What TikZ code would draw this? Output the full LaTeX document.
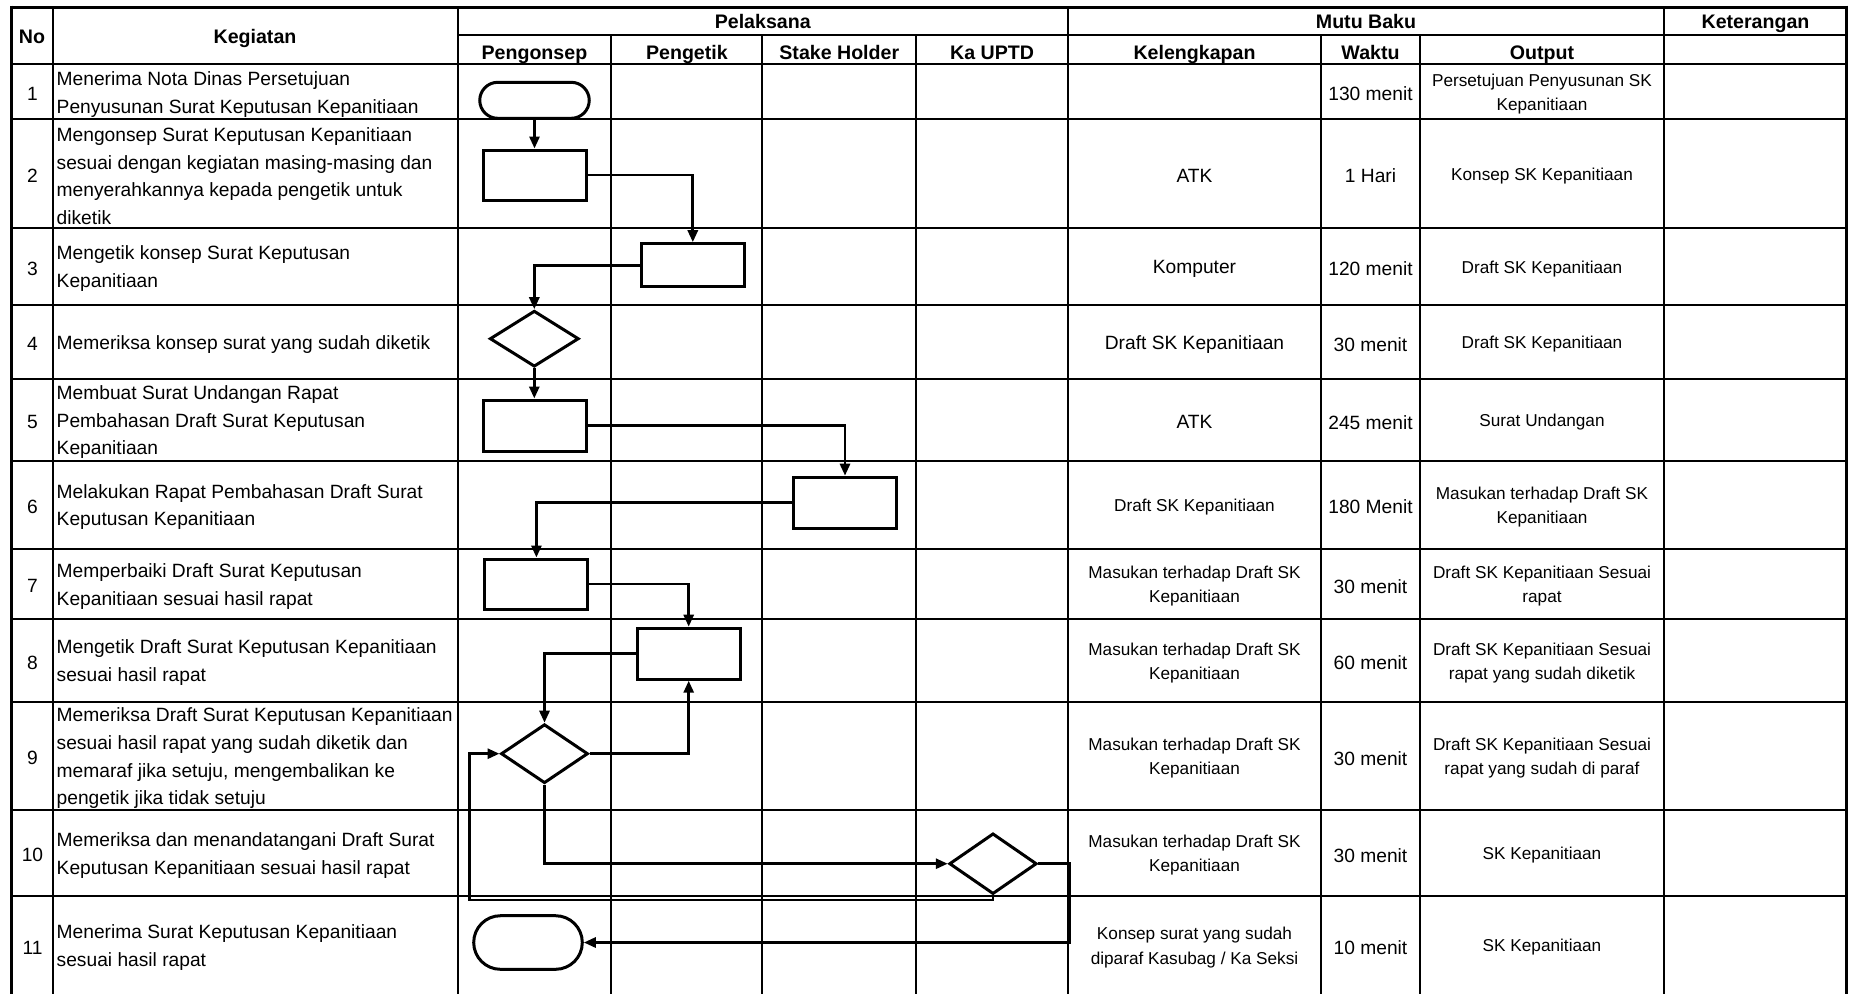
\documentclass[tikz,border=0pt]{standalone}
\usepackage{fontspec}
\setmainfont{Liberation Sans}
\usetikzlibrary{arrows.meta,shapes.geometric,shapes.misc}
\newcommand{\FBig}{\fontsize{19.2}{27.7}\selectfont}
\newcommand{\FSmall}{\fontsize{17.2}{24.2}\selectfont}
\newcommand{\FHead}{\fontsize{19.6}{24}\selectfont\bfseries}
\tikzset{
  gridline/.style={line width=2pt},
  frameline/.style={line width=3pt},
  kg/.style={anchor=west, align=left, font=\FBig, inner sep=0pt},
  num/.style={font=\FBig, inner sep=0pt},
  big/.style={align=center, font=\FBig, inner sep=0pt},
  sml/.style={align=center, font=\FSmall, inner sep=0pt},
  hd/.style={anchor=base, font=\FHead, inner sep=0pt},
  proc/.style={draw, fill=white, line width=3pt, minimum width=103pt, minimum height=50pt, inner sep=0pt},
  term/.style={draw, fill=white, rounded rectangle, line width=3pt, inner sep=0pt},
  dec/.style={draw, fill=white, diamond, line width=3pt, inner sep=0pt},
  arr/.style={line width=2.8pt, -{Triangle[length=12pt,width=10pt]}},
}
\begin{document}
\begin{tikzpicture}[x=1pt,y=-1pt]
\useasboundingbox (0,0) rectangle (1849,994);
% ---------- table grid ----------
\draw[frameline] (11,7) -- (1846,7);
\draw[gridline] (457.5,35) -- (1846,35);
\draw[line width=2.8pt] (11,64) -- (1846,64);
\foreach \yy in {119,228,304.5,379,460.5,548.5,619,701.7,809.7,896}
  \draw[gridline] (11,\yy) -- (1846,\yy);
\foreach \xx in {52.6,457.5,1068,1664}
  \draw[gridline] (\xx,7) -- (\xx,994);
\foreach \xx in {611.3,762.4,916.2,1321,1420}
  \draw[gridline] (\xx,35) -- (\xx,994);
\draw[frameline] (11,5.5) -- (11,994);
\draw[frameline] (1846,5.5) -- (1846,994);
% ---------- headers ----------
\node[hd] (hno) at (32,43.3) {No};
\node[hd] (hkeg) at (255,43.3) {Kegiatan};
\node[hd] (hpel) at (762.75,28.6) {Pelaksana};
\node[hd] (hmutu) at (1366,28.6) {Mutu Baku};
\node[hd] (hket) at (1755.5,28.6) {Keterangan};
\node[hd] (hp1) at (534.4,59) {Pengonsep};
\node[hd] (hp2) at (686.9,59) {Pengetik};
\node[hd] (hp3) at (839.3,59) {Stake Holder};
\node[hd] (hp4) at (992.1,59) {Ka UPTD};
\node[hd] (hm1) at (1194.5,59) {Kelengkapan};
\node[hd] (hm2) at (1370.5,59) {Waktu};
\node[hd] (hm3) at (1542,59) {Output};
% ---------- numbers and time ----------
\foreach \i/\yy/\w in {1/94/130 menit, 2/176/1 Hari, 3/268.75/120 menit, 4/344.25/30 menit,
  5/422.25/245 menit, 6/507/180 Menit, 7/586.25/30 menit, 8/662.85/60 menit,
  9/758.2/30 menit, 10/855.35/30 menit, 11/947.5/10 menit}{
  \node[num] (n\i) at (32.5,\yy) {\i};
  \node[big] (w\i) at (1370.5,\yy) {\w};
}
% ---------- kegiatan ----------
\node[kg] (k1) at (56.5,94.5) {Menerima Nota Dinas Persetujuan\\Penyusunan Surat Keputusan Kepanitiaan};
\node[kg] (k2) at (56.5,176) {Mengonsep Surat Keputusan Kepanitiaan\\sesuai dengan kegiatan masing-masing dan\\menyerahkannya kepada pengetik untuk\\diketik};
\node[kg] (k3) at (56.5,268.75) {Mengetik konsep Surat Keputusan\\Kepanitiaan};
\node[kg] (k4) at (56.5,344.25) {Memeriksa konsep surat yang sudah diketik};
\node[kg] (k5) at (56.5,422.25) {Membuat Surat Undangan Rapat\\Pembahasan Draft Surat Keputusan\\Kepanitiaan};
\node[kg] (k6) at (56.5,507) {Melakukan Rapat Pembahasan Draft Surat\\Keputusan Kepanitiaan};
\node[kg] (k7) at (56.5,586.25) {Memperbaiki Draft Surat Keputusan\\Kepanitiaan sesuai hasil rapat};
\node[kg] (k8) at (56.5,662.85) {Mengetik Draft Surat Keputusan Kepanitiaan\\sesuai hasil rapat};
\node[kg] (k9) at (56.5,758.2) {Memeriksa Draft Surat Keputusan Kepanitiaan\\sesuai hasil rapat yang sudah diketik dan\\memaraf jika setuju, mengembalikan ke\\pengetik jika tidak setuju};
\node[kg] (k10) at (56.5,855.35) {Memeriksa dan menandatangani Draft Surat\\Keputusan Kepanitiaan sesuai hasil rapat};
\node[kg] (k11) at (56.5,947.5) {Menerima Surat Keputusan Kepanitiaan\\sesuai hasil rapat};
% ---------- kelengkapan ----------
\node[big] (l2) at (1194.5,176) {ATK};
\node[big] (l3) at (1194.5,268.75) {Komputer};
\node[big] (l4) at (1194.5,344.25) {Draft SK Kepanitiaan};
\node[big] (l5) at (1194.5,422.25) {ATK};
\node[sml] (l6) at (1194.5,507) {Draft SK Kepanitiaan};
\node[sml] (l7) at (1194.5,586.25) {Masukan terhadap Draft SK\\Kepanitiaan};
\node[sml] (l8) at (1194.5,662.85) {Masukan terhadap Draft SK\\Kepanitiaan};
\node[sml] (l9) at (1194.5,758.2) {Masukan terhadap Draft SK\\Kepanitiaan};
\node[sml] (l10) at (1194.5,855.35) {Masukan terhadap Draft SK\\Kepanitiaan};
\node[sml] (l11) at (1194.5,947.5) {Konsep surat yang sudah\\diparaf Kasubag / Ka Seksi};
% ---------- output ----------
\node[sml] (o1) at (1542,94) {Persetujuan Penyusunan SK\\Kepanitiaan};
\node[sml] (o2) at (1542,176) {Konsep SK Kepanitiaan};
\node[sml] (o3) at (1542,268.75) {Draft SK Kepanitiaan};
\node[sml] (o4) at (1542,344.25) {Draft SK Kepanitiaan};
\node[sml] (o5) at (1542,422.25) {Surat Undangan};
\node[sml] (o6) at (1542,507) {Masukan terhadap Draft SK\\Kepanitiaan};
\node[sml] (o7) at (1542,586.25) {Draft SK Kepanitiaan Sesuai\\rapat};
\node[sml] (o8) at (1542,662.85) {Draft SK Kepanitiaan Sesuai\\rapat yang sudah diketik};
\node[sml] (o9) at (1542,758.2) {Draft SK Kepanitiaan Sesuai\\rapat yang sudah di paraf};
\node[sml] (o10) at (1542,855.35) {SK Kepanitiaan};
\node[sml] (o11) at (1542,947.5) {SK Kepanitiaan};
% ---------- flowchart shapes ----------
\node[term, minimum width=109.5pt, minimum height=36pt] (t1) at (534.5,100.3) {};
\node[proc] (p2) at (534.8,175) {};
\node[proc, minimum height=43pt] (p3) at (692.8,265.2) {};
\node[dec, minimum width=89pt, minimum height=56pt] (d4) at (534.3,338.7) {};
\node[proc, minimum height=51pt] (p5) at (534.7,425.5) {};
\node[proc, minimum height=51pt] (p6) at (845,502.7) {};
\node[proc] (p7) at (536.4,584) {};
\node[proc, minimum height=51pt] (p8) at (688.7,653.7) {};
\node[dec, minimum width=87pt, minimum height=59pt] (d9) at (544.5,753.7) {};
\node[dec, minimum width=87.5pt, minimum height=60.7pt] (d10) at (993,863.7) {};
\node[term, minimum width=108.6pt, minimum height=53.6pt] (t11) at (528,942.5) {};
% ---------- connectors ----------
\draw[arr] (t1.south) -- (t1.south |- p2.north);
\draw[arr] (p2.east) -| (p3.north);
\draw[arr] (p3.west) -| (d4.north);
\draw[arr] (d4.south) -- (d4.south |- p5.north);
\draw[arr] (p5.east) -| (p6.north);
\draw[arr] (p6.west) -| (p7.north);
\draw[arr] (p7.east) -| (p8.north);
\draw[arr] (p8.west) -| (d9.north);
\draw[arr] (d9.east) -| (p8.south);
\draw[arr] (d9.south) |- (d10.west);
\coordinate (lb) at (469.5,900);
\draw[arr] (d10.south) |- (lb) |- (d9.west);
\coordinate (rk) at (1069.5,863.7);
\draw[arr] (d10.east) -- (rk) |- (t11.east);
\end{tikzpicture}
\end{document}
